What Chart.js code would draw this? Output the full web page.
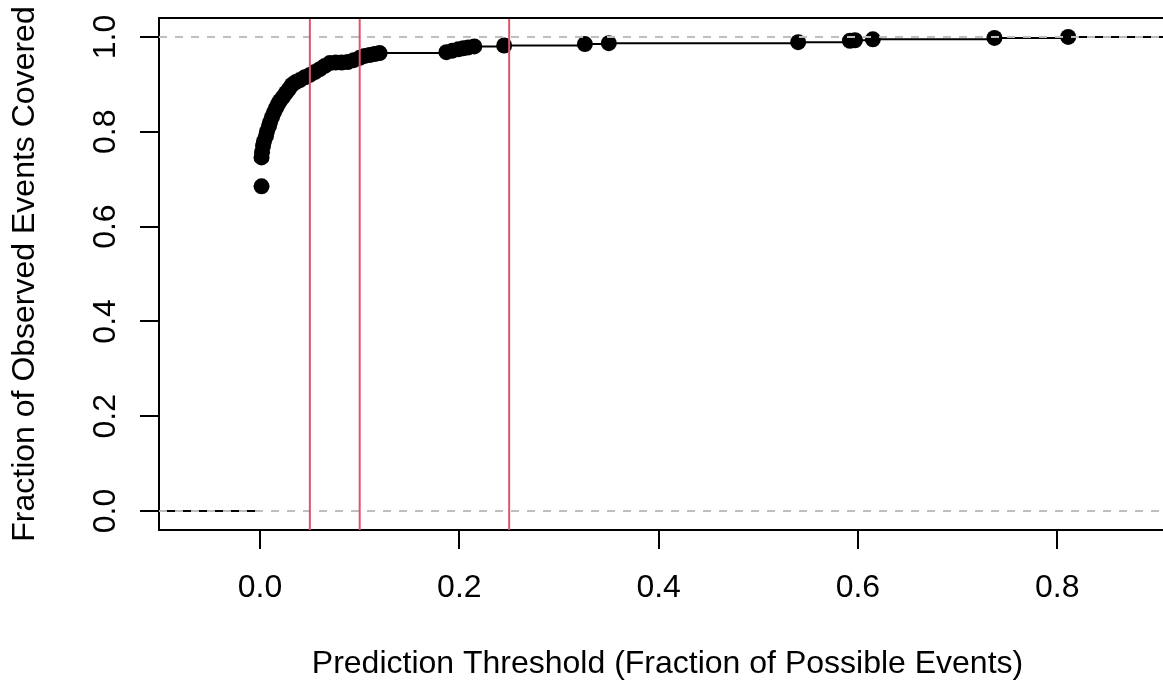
<!DOCTYPE html>
<html>
<head>
<meta charset="utf-8">
<script src="https://cdn.jsdelivr.net/npm/chart.js@4.4.1/dist/chart.umd.min.js"></script>
<style>
  html, body { margin: 0; padding: 0; overflow: hidden; background: #fff; width: 1163px; height: 684px; }
  #wrap { width: 1176px; height: 684px; }
  canvas { display: block; }
</style>
</head>
<body>
<div id="wrap"><canvas id="c" width="1176" height="684"></canvas></div>
<script>
// ---- data ----
const thresholds = [0.0015, 0.0015, 0.002, 0.003, 0.004, 0.006, 0.007, 0.009, 0.010, 0.012,
                    0.014, 0.016, 0.018, 0.020, 0.023, 0.026, 0.029, 0.032, 0.036, 0.040,
                    0.045, 0.050, 0.055, 0.060, 0.065, 0.070, 0.076, 0.082, 0.088, 0.094,
                    0.100, 0.105, 0.110, 0.115, 0.120, 0.187, 0.193, 0.199, 0.204, 0.209,
                    0.215, 0.245, 0.326, 0.350, 0.540, 0.592, 0.597, 0.615, 0.737, 0.811];
const coverage   = [0.685, 0.746, 0.757, 0.770, 0.780, 0.791, 0.801, 0.812, 0.820, 0.831,
                    0.841, 0.850, 0.858, 0.865, 0.873, 0.882, 0.890, 0.899, 0.905, 0.909,
                    0.915, 0.920, 0.926, 0.932, 0.939, 0.945, 0.946, 0.946, 0.947, 0.951,
                    0.956, 0.960, 0.962, 0.964, 0.966, 0.968, 0.971, 0.974, 0.976, 0.978,
                    0.980, 0.982, 0.985, 0.987, 0.989, 0.992, 0.993, 0.995, 0.998, 1.000];
const cutoffs = [0.05, 0.10, 0.25];          // red vertical reference lines
const refLevels = [0, 1];                    // grey dashed horizontal lines
const xTickValues = [0, 0.2, 0.4, 0.6, 0.8];
const xTickLabels = ['0.0', '0.2', '0.4', '0.6', '0.8'];
const yTickValues = [0, 0.2, 0.4, 0.6, 0.8, 1.0];
const yTickLabels = ['0.0', '0.2', '0.4', '0.6', '0.8', '1.0'];
const xRange = [-0.1014, 0.9192];
const yRange = [-0.04, 1.04];
const leadInEnd = 0;        // black segment at level 0 runs from the left edge to x = 0
const lineStartLevel = 0;
const lineEndLevel = 1;     // step line continues at 1 to the right
const lineFromIndex = 1;    // step line joins the points from the second one on
const xTitle = 'Prediction Threshold (Fraction of Possible Events)';
const yTitle = 'Fraction of Observed Events Covered';

// ---- build datasets ----
const FONT = '"Liberation Sans", Arial, Helvetica, sans-serif';
const pts = thresholds.map((x, i) => ({ x: x, y: coverage[i] }));
const stepData = [
  { x: xRange[0], y: lineStartLevel },
  { x: leadInEnd, y: lineStartLevel },
  { x: leadInEnd, y: null }
].concat(pts.slice(lineFromIndex), [{ x: xRange[1], y: lineEndLevel }]);

const datasets = [];
cutoffs.forEach(c => datasets.push({
  type: 'line', data: [{ x: c, y: yRange[0] }, { x: c, y: yRange[1] }],
  borderColor: '#DF536B', borderWidth: 2, pointRadius: 0, order: 0
}));
refLevels.forEach(h => datasets.push({
  type: 'line', data: [{ x: xRange[0], y: h }, { x: xRange[1], y: h }],
  borderColor: '#BEBEBE', borderWidth: 2, borderDash: [8, 8], pointRadius: 0, order: 1
}));
datasets.push({
  type: 'scatter', data: pts, showLine: false,
  pointRadius: 8, pointBackgroundColor: '#000', pointBorderWidth: 0, pointBorderColor: '#000', order: 2
});
datasets.push({
  type: 'line', data: stepData, stepped: true, spanGaps: false,
  borderColor: '#000', borderWidth: 2, pointRadius: 0, fill: false, order: 3
});

const boxPlugin = {
  id: 'rbox',
  afterDraw(chart) {
    const ctx = chart.ctx, a = chart.chartArea, ys = chart.scales.y;
    ctx.save();
    ctx.strokeStyle = '#000';
    ctx.lineWidth = 2;
    ctx.beginPath();
    ctx.moveTo(a.left - 1, a.top);
    ctx.lineTo(a.right + 5, a.top);
    ctx.stroke();
    ctx.fillStyle = '#000';
    ctx.font = '32px ' + FONT;
    ctx.textAlign = 'center';
    ctx.textBaseline = 'alphabetic';
    yTickValues.forEach((v, i) => {
      const py = ys.getPixelForValue(v);
      ctx.save();
      ctx.translate(115, py);
      ctx.rotate(-Math.PI / 2);
      ctx.fillText(yTickLabels[i], 0, 0);
      ctx.restore();
    });
    ctx.restore();
  }
};

new Chart(document.getElementById('c'), {
  type: 'line',
  data: { datasets: datasets },
  options: {
    responsive: false,
    animation: false,
    devicePixelRatio: 1,
    layout: { padding: { top: 18, left: 0, right: 0, bottom: 0 }, autoPadding: false },
    plugins: { legend: { display: false }, tooltip: { enabled: false } },
    scales: {
      x: {
        type: 'linear', min: xRange[0], max: xRange[1],
        afterBuildTicks: s => { s.ticks = xTickValues.map(v => ({ value: v })); },
        afterFit: s => { s.height = 154; },
        ticks: {
          callback: (v, i) => xTickLabels[i],
          font: { family: FONT, size: 32 }, color: '#000', padding: 20, maxRotation: 0, autoSkip: false
        },
        grid: { drawOnChartArea: false, drawTicks: true, tickLength: 19, color: '#000', lineWidth: 2 },
        border: { display: true, color: '#000', width: 2 },
        title: { display: true, text: xTitle, color: '#000', font: { family: FONT, size: 32 }, padding: { top: 0, bottom: 1 } }
      },
      y: {
        type: 'linear', min: yRange[0], max: yRange[1],
        afterBuildTicks: s => { s.ticks = yTickValues.map(v => ({ value: v })); },
        afterFit: s => { s.width = 159; },
        ticks: { display: false },
        grid: { drawOnChartArea: false, drawTicks: true, tickLength: 19, color: '#000', lineWidth: 2 },
        border: { display: true, color: '#000', width: 2 },
        title: { display: true, text: yTitle, color: '#000', font: { family: FONT, size: 32 }, padding: { top: 6, bottom: 0 } }
      }
    }
  },
  plugins: [boxPlugin]
});
</script>
</body>
</html>
